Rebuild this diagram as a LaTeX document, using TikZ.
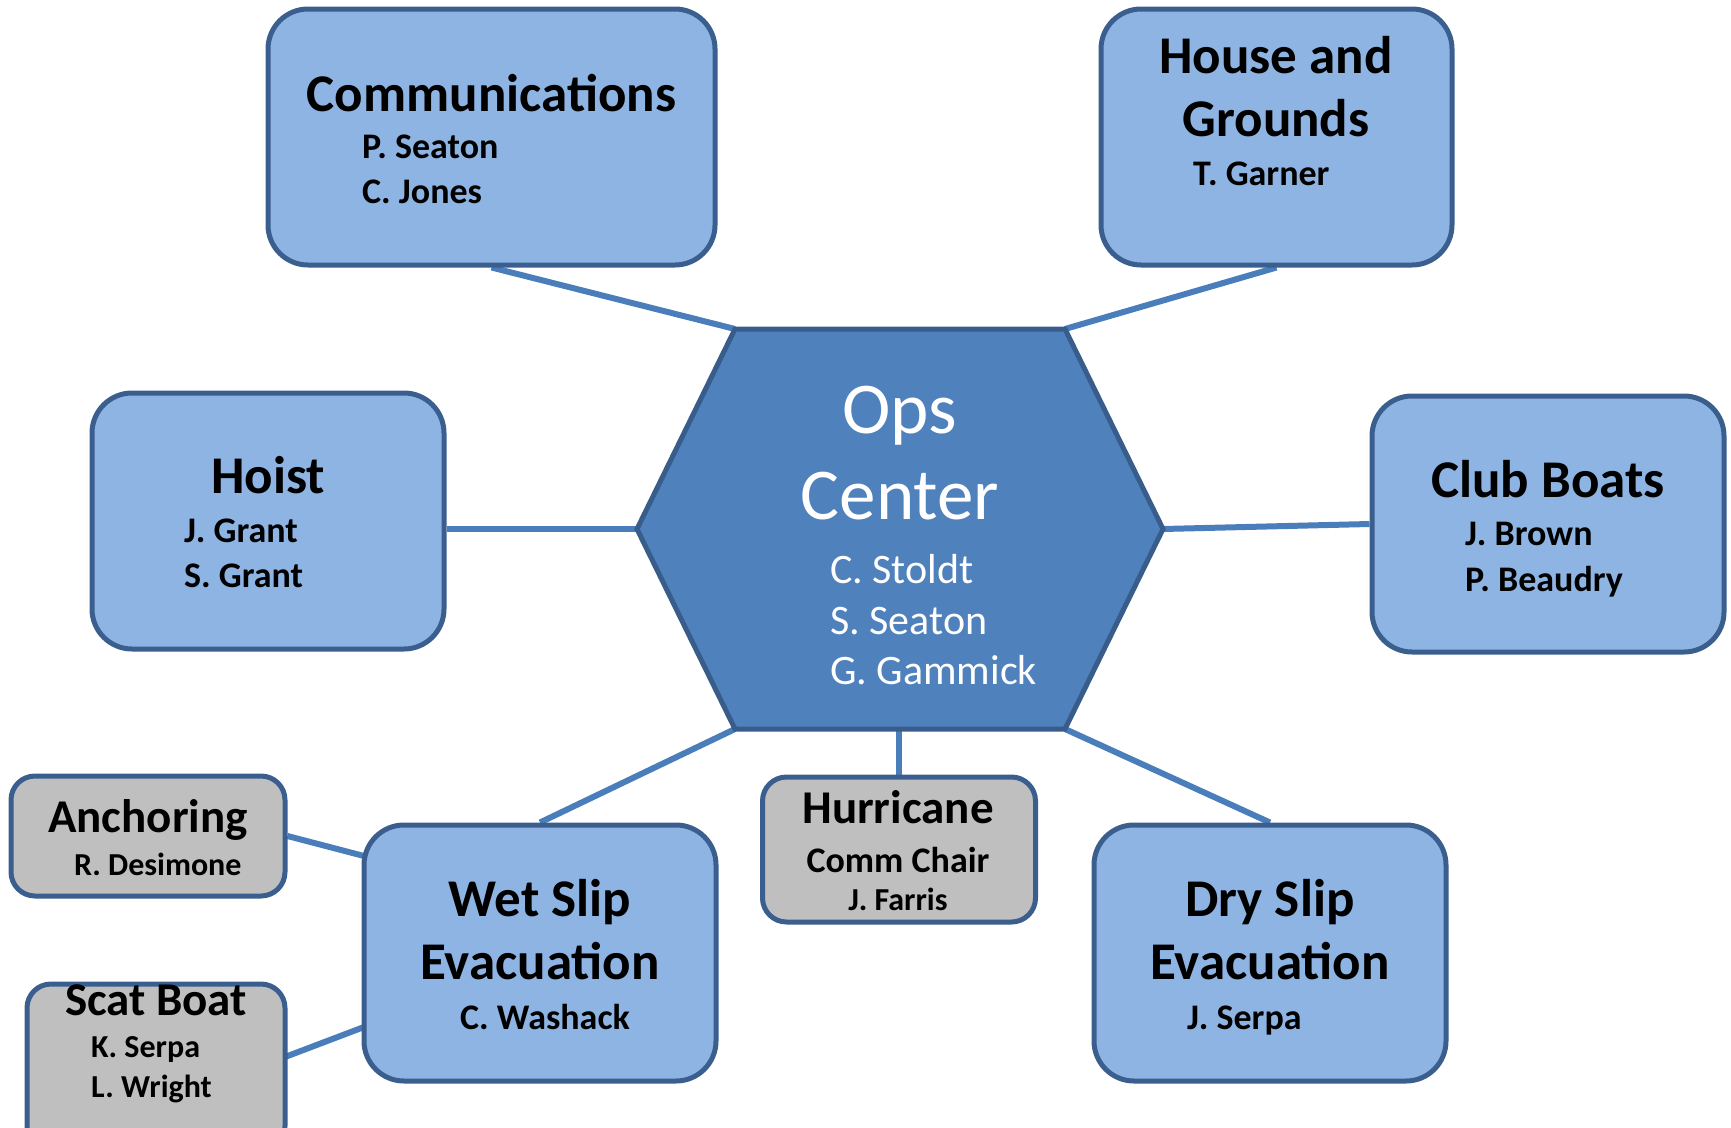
\documentclass[tikz,border=0pt]{standalone}
\usepackage{fontspec}
\setmainfont{Carlito}
\usetikzlibrary{backgrounds}
\definecolor{boxfill}{HTML}{8EB4E3}
\definecolor{boxline}{HTML}{3A5F8E}
\definecolor{hexfill}{HTML}{4F81BD}
\definecolor{hexline}{HTML}{385D8A}
\definecolor{conn}{HTML}{4A7EBB}
\definecolor{grayfill}{HTML}{BFBFBF}
\tikzset{
  bigbox/.style={draw=boxline, line width=5pt, fill=boxfill, rounded corners=40pt, inner sep=0pt},
  smallbox/.style={draw=boxline, line width=5pt, fill=grayfill, rounded corners=24pt, inner sep=0pt},
  link/.style={draw=conn, line width=6pt},
  ttl/.style={inner sep=0pt, font=\bfseries\fontsize{53}{53}\selectfont},
  nm/.style={inner sep=0pt, font=\bfseries\fontsize{36}{36}\selectfont},
  sttl/.style={inner sep=0pt, font=\bfseries\fontsize{47}{47}\selectfont},
  snm/.style={inner sep=0pt, font=\bfseries\fontsize{32}{32}\selectfont},
  opsttl/.style={inner sep=0pt, text=white, font=\fontsize{73}{73}\selectfont},
  opsnm/.style={inner sep=0pt, text=white, font=\fontsize{42}{42}\selectfont},
}
\begin{document}
\begin{tikzpicture}[x=1pt,y=-1pt]
\useasboundingbox (0,0) rectangle (1731,1127);
% boxes
\node[bigbox, minimum width=447pt, minimum height=256pt] (comm) at (491.5,137) {};
\node[bigbox, minimum width=351pt, minimum height=256pt] (hg) at (1276.5,137) {};
\node[bigbox, minimum width=352pt, minimum height=256pt] (hoist) at (268,521) {};
\node[bigbox, minimum width=352pt, minimum height=256pt] (club) at (1548,524) {};
\node[bigbox, minimum width=352pt, minimum height=256pt] (wet) at (540,953) {};
\node[bigbox, minimum width=352pt, minimum height=256pt] (dry) at (1270,953) {};
\node[smallbox, minimum width=274pt, minimum height=120pt] (anch) at (148,836) {};
\node[smallbox, minimum width=258pt, minimum height=166pt] (scat) at (156,1067) {};
\node[smallbox, minimum width=273pt, minimum height=145pt] (hurr) at (899,849.5) {};
% hexagon
\coordinate (hTL) at (735,329);
\coordinate (hTR) at (1065,329);
\coordinate (hR) at (1163,529);
\coordinate (hBR) at (1065,729);
\coordinate (hBL) at (735,729);
\coordinate (hL) at (637,529);
\coordinate (hBM) at (899,729);
\draw[fill=hexfill, draw=hexline, line width=5pt, line join=miter] (hTL) -- (hTR) -- (hR) -- (hBR) -- (hBL) -- (hL) -- cycle;
% connectors
\begin{scope}[on background layer]
\draw[link] (comm.south) -- (hTL);
\draw[link] (hg.south) -- (hTR);
\draw[link] (hL -| hoist.east) -- (hL);
\draw[link] (hR) -- (club.west);
\draw[link] (hBL) -- (wet.north);
\draw[link] (hBM) -- (hurr.north);
\draw[link] (hBR) -- (dry.north);
\coordinate (wA) at (364,856);
\coordinate (wB) at (364,1027);
\draw[link] (anch.east) -- (wA);
\draw[link] (285,1057) coordinate (sE) -- (wB);
\end{scope}
% Ops center text
\node[opsttl, anchor=base] (t1) at (900,433) {Ops};
\node[opsttl, anchor=base] (t2) at (900,519) {Center};
\node[opsnm, anchor=base west] (t3) at (830,583) {C. Stoldt};
\node[opsnm, anchor=base west] (t4) at (830,634) {S. Seaton};
\node[opsnm, anchor=base west] (t5) at (830,684) {G. Gammick};
% Communications
\node[ttl, anchor=base] (c1) at (491.5,111) {Communications};
\node[nm, anchor=base west] (c2) at (362,158) {P. Seaton};
\node[nm, anchor=base west] (c3) at (362,203) {C. Jones};
% House and Grounds
\node[ttl, anchor=base] (g1) at (1276,73) {House and};
\node[ttl, anchor=base] (g2) at (1276,136) {Grounds};
\node[nm, anchor=base west] (g3) at (1193,185) {T. Garner};
% Hoist
\node[ttl, anchor=base] (h1) at (268,493) {Hoist};
\node[nm, anchor=base west] (h2) at (184,542) {J. Grant};
\node[nm, anchor=base west] (h3) at (184,587) {S. Grant};
% Club Boats
\node[ttl, anchor=base] (b1) at (1548,497) {Club Boats};
\node[nm, anchor=base west] (b2) at (1465,545) {J. Brown};
\node[nm, anchor=base west] (b3) at (1465,591) {P. Beaudry};
% Wet Slip
\node[ttl, anchor=base] (w1) at (540,916) {Wet Slip};
\node[ttl, anchor=base] (w2) at (540,979) {Evacuation};
\node[nm, anchor=base] (w3) at (545,1029) {C. Washack};
% Dry Slip
\node[ttl, anchor=base] (d1) at (1270,916) {Dry Slip};
\node[ttl, anchor=base] (d2) at (1270,979) {Evacuation};
\node[nm, anchor=base west] (d3) at (1187,1029) {J. Serpa};
% Hurricane
\node[sttl, anchor=base] (r1) at (898,823) {Hurricane};
\node[nm, anchor=base] (r2) at (898,872) {Comm Chair};
\node[snm, anchor=base] (r3) at (898,910) {J. Farris};
% Anchoring
\node[sttl, anchor=base] (a1) at (148,832) {Anchoring};
\node[snm, anchor=base west] (a2) at (74,875) {R. Desimone};
% Scat Boat
\node[sttl, anchor=base] (s1) at (156,1015) {Scat Boat};
\node[snm, anchor=base west] (s2) at (91,1057) {K. Serpa};
\node[snm, anchor=base west] (s3) at (91,1097) {L. Wright};
\end{tikzpicture}
\end{document}
